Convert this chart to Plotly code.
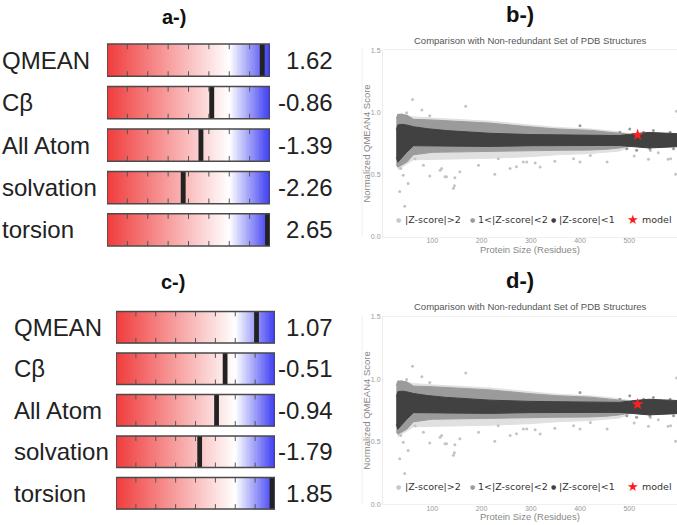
import numpy as np
import plotly.graph_objects as go

# ---------------- data ----------------
metrics = ["QMEAN", "Cβ", "All Atom", "solvation", "torsion"]
scores_a = [1.62, -0.86, -1.39, -2.26, 2.65]
scores_c = [1.07, -0.51, -0.94, -1.79, 1.85]
zscale_range = [-6, 2]
zscale_ticks = [-5, -4, -3, -2, -1, 0, 1]

# reference cloud envelopes: protein size vs normalized QMEAN4
dark_x = [27, 30, 38, 48, 62, 90, 129, 170, 217, 298, 380, 440, 480, 510, 540, 570, 597]
dark_top = [0.86, 0.90, 0.905, 0.90, 0.886, 0.87, 0.855, 0.842, 0.833, 0.823, 0.818, 0.815, 0.815, 0.83, 0.84, 0.835, 0.83]
dark_bot = [0.64, 0.60, 0.64, 0.68, 0.733, 0.73, 0.727, 0.727, 0.727, 0.733, 0.735, 0.735, 0.735, 0.725, 0.715, 0.72, 0.725]

mid_x = [27, 30, 48, 62, 100, 150, 217, 298, 353, 420, 455, 480, 500]
mid_top = [0.95, 0.986, 0.98, 0.945, 0.94, 0.93, 0.915, 0.885, 0.868, 0.857, 0.845, 0.835, 0.825]
mid_bot = [0.58, 0.56, 0.60, 0.66, 0.68, 0.683, 0.683, 0.692, 0.696, 0.698, 0.705, 0.715, 0.73]

light_x = [30, 62, 100, 150, 217, 298, 353, 420, 480, 500]
light_top = [0.99, 0.965, 0.955, 0.945, 0.93, 0.90, 0.88, 0.868, 0.845, 0.83]
light_bot = [0.54, 0.62, 0.62, 0.625, 0.632, 0.645, 0.66, 0.67, 0.69, 0.72]

out_light_x = [60, 168, 48, 38, 79, 95, 116, 129, 146, 143, 145, 34, 51, 44, 36, 41, 194, 234, 292, 319,
               387, 421, 455, 510, 543, 584, 594, 596, 65, 82, 126, 119, 156, 227, 258, 271, 285, 309,
               349, 400, 539, 559, 579, 95]
out_light_y = [1.104, 1.051, 0.998, 0.985, 1.021, 0.974, 0.536, 0.483, 0.475, 0.391, 0.412, 0.364, 0.43,
               0.246, 0.549, 0.496, 0.576, 0.628, 0.602, 0.562, 0.628, 0.655, 0.602, 0.65, 0.694, 0.628,
               0.504, 1.011, 0.628, 0.576, 0.484, 0.55, 0.524, 0.503, 0.55, 0.563, 0.603, 0.595, 0.609,
               0.603, 0.624, 0.677, 0.624, 0.49]
out_mid_x = [481, 501, 495, 515, 542, 562, 583, 590, 549, 529, 400]
out_mid_y = [0.841, 0.868, 0.709, 0.696, 0.709, 0.736, 0.841, 0.709, 0.855, 0.841, 0.894]

model_size = [517]
model_score_b = [0.82]
model_score_d = [0.80]

size_ticks = [100, 200, 300, 400, 500]
score_ticks = [0.0, 0.5, 1.0, 1.5]

# ---------------- layout helpers ----------------
W, H = 677, 525
def px(x):
    return x / W
def py(y):
    return 1 - y / H

RED, WHITE, BLUE = "#f03c3c", "#ffffff", "#3c3cf2"
fig = go.Figure()
shapes, annots = [], []
FONT = "Liberation Sans, Arial, sans-serif"
PLOT_TITLE = "Comparison with Non-redundant Set of PDB Structures"

def bar_panel(scores, xa, ya, xdom, ydom, label_x, value_x, title, title_xy):
    half = 0.38
    edges = np.linspace(zscale_range[0], zscale_range[1], 201)
    centers = (edges[:-1] + edges[1:]) / 2
    for i, (m, v) in enumerate(zip(metrics, scores)):
        fig.add_trace(go.Heatmap(x=edges, y=[i - half, i + half], z=[centers],
                                 colorscale=[[0, RED], [0.75, WHITE], [1, BLUE]],
                                 zmin=zscale_range[0], zmax=zscale_range[1], showscale=False,
                                 hoverinfo="skip", xaxis=xa, yaxis=ya))
        for t in zscale_ticks:
            shapes.append(dict(type="line", xref=xa, yref=ya, x0=t, x1=t, y0=i - half, y1=i - half + 0.12,
                               line=dict(color="#555", width=1)))
            shapes.append(dict(type="line", xref=xa, yref=ya, x0=t, x1=t, y0=i + half, y1=i + half - 0.12,
                               line=dict(color="#555", width=1)))
        vc = min(max(v, zscale_range[0] + 0.12), zscale_range[1] - 0.12)
        shapes.append(dict(type="rect", xref=xa, yref=ya, x0=vc - 0.12, x1=vc + 0.12,
                           y0=i - half, y1=i + half, fillcolor="#222", line=dict(width=0)))
        shapes.append(dict(type="rect", xref=xa, yref=ya, x0=zscale_range[0], x1=zscale_range[1],
                           y0=i - half, y1=i + half, line=dict(color="#4a4a4a", width=1.5)))
        annots.append(dict(text=m, xref="paper", yref=ya, x=px(label_x), y=i, xanchor="left",
                           yanchor="middle", showarrow=False, font=dict(size=24, color="#222", family=FONT)))
        annots.append(dict(text=f"{v:.2f}", xref="paper", yref=ya, x=px(value_x), y=i, xanchor="right",
                           yanchor="middle", showarrow=False, font=dict(size=24, color="#222", family=FONT)))
    ax = dict(domain=xdom, range=zscale_range, visible=False, fixedrange=True)
    ay = dict(domain=ydom, range=[4.5, -0.5], visible=False, fixedrange=True)
    annots.append(dict(text=f"<b>{title}</b>", xref="paper", yref="paper", x=px(title_xy[0]), y=py(title_xy[1]),
                       xanchor="center", yanchor="middle", showarrow=False,
                       font=dict(size=20, color="#111", family=FONT)))
    return ax, ay

def cloud_panel(xa, ya, ydom, model_score, ptitle_y, xt_y, leg_y, panel_label, panel_label_y):
    def band(xs, top, bot, color):
        fig.add_trace(go.Scatter(x=xs + xs[::-1], y=top + bot[::-1], fill="toself", fillcolor=color,
                                 mode="lines", line=dict(color=color, width=1),
                                 hoverinfo="skip", xaxis=xa, yaxis=ya))
    band(light_x, light_top, light_bot, "#e0e0e0")
    fig.add_trace(go.Scatter(x=out_light_x, y=out_light_y, mode="markers",
                             marker=dict(size=3, color="#c4c4c4"), hoverinfo="skip", xaxis=xa, yaxis=ya))
    band(mid_x, mid_top, mid_bot, "#9b9b9b")
    fig.add_trace(go.Scatter(x=out_mid_x, y=out_mid_y, mode="markers",
                             marker=dict(size=3, color="#9b9b9b"), hoverinfo="skip", xaxis=xa, yaxis=ya))
    band(dark_x, dark_top, dark_bot, "#414141")
    fig.add_trace(go.Scatter(x=model_size, y=model_score, mode="markers",
                             marker=dict(symbol="star", size=9, color="#ff2020", line=dict(width=0)),
                             hoverinfo="skip", xaxis=xa, yaxis=ya))
    ax = dict(domain=[px(383), 1.0], range=[0, 597], tickvals=size_ticks, ticks="", showgrid=False,
              zeroline=False, showline=True, linecolor="#f0f0f0", mirror=True, ticklabelstandoff=-3,
              tickfont=dict(size=7, color="#999", family=FONT), fixedrange=True)
    ay = dict(domain=ydom, range=[0, 1.5], tickvals=score_ticks, ticktext=[f"{t:.1f}" for t in score_ticks],
              ticks="", showgrid=False, zeroline=False, showline=True, linecolor="#ececec",
              tickfont=dict(size=7, color="#999", family=FONT), fixedrange=True)
    shapes.append(dict(type="line", xref="paper", yref="paper", x0=px(362), x1=px(362),
                       y0=ydom[0], y1=ydom[1] + 2 / H, line=dict(color="#f0f0f0", width=1)))
    annots.append(dict(text=PLOT_TITLE, xref="paper", yref="paper", x=px(530), y=py(ptitle_y), xanchor="center",
                       yanchor="middle", showarrow=False, font=dict(size=9.5, color="#555", family=FONT)))
    annots.append(dict(text="Protein Size (Residues)", xref="paper", yref="paper", x=px(530), y=py(xt_y),
                       xanchor="center", yanchor="middle", showarrow=False,
                       font=dict(size=9.5, color="#888", family=FONT)))
    annots.append(dict(text="Normalized QMEAN4 Score", xref="paper", yref="paper", x=px(367),
                       y=(ydom[0] + ydom[1]) / 2, xanchor="center", yanchor="middle", textangle=-90,
                       showarrow=False, font=dict(size=9.5, color="#888", family=FONT)))
    leg = [("●", 398, "#c8c8c8", 6, "|Z-score|>2", 403),
           ("●", 472, "#9b9b9b", 6, "1<|Z-score|<2", 476),
           ("●", 553, "#404040", 6, "|Z-score|<1", 557),
           ("★", 633, "#ff1a1a", 13, "model", 640)]
    for sym, sx, col, ss, txt, tx in leg:
        annots.append(dict(text=sym, xref="paper", yref="paper", x=px(sx), y=py(leg_y), xanchor="center",
                           yanchor="middle", showarrow=False, font=dict(size=ss, color=col, family="DejaVu Sans")))
        annots.append(dict(text=txt, xref="paper", yref="paper", x=px(tx), y=py(leg_y), xanchor="left",
                           yanchor="middle", showarrow=False, font=dict(size=9.5, color="#333", family="DejaVu Sans")))
    annots.append(dict(text=f"<b>{panel_label}</b>", xref="paper", yref="paper", x=px(520), y=py(panel_label_y),
                       xanchor="center", yanchor="middle", showarrow=False,
                       font=dict(size=22, color="#111", family=FONT)))
    return ax, ay

ax1, ay1 = bar_panel(scores_a, "x", "y", [px(107), px(270)], [py(250.5), py(35.5)], 0, 335, "a-)", (174, 13))
ax2, ay2 = bar_panel(scores_c, "x2", "y2", [px(116), px(275)], [py(517), py(306.5)], 12, 335, "c-)", (173, 282))
ax3, ay3 = cloud_panel("x3", "y3", [py(236), py(47)], model_score_b, 37, 248.5, 218.5, "b-)", 11)
ax4, ay4 = cloud_panel("x4", "y4", [py(507), py(317)], model_score_d, 307, 519.5, 489, "d-)", 280)

fig.update_layout(
    width=W, height=H, margin=dict(l=0, r=0, t=0, b=0),
    paper_bgcolor="white", plot_bgcolor="rgba(0,0,0,0)", showlegend=False,
    xaxis=ax1, yaxis=ay1, xaxis2=ax2, yaxis2=ay2,
    xaxis3=dict(ax3, anchor="y3"), yaxis3=dict(ay3, anchor="x3"),
    xaxis4=dict(ax4, anchor="y4"), yaxis4=dict(ay4, anchor="x4"),
    shapes=shapes, annotations=annots,
)
fig.write_html("out.html")
